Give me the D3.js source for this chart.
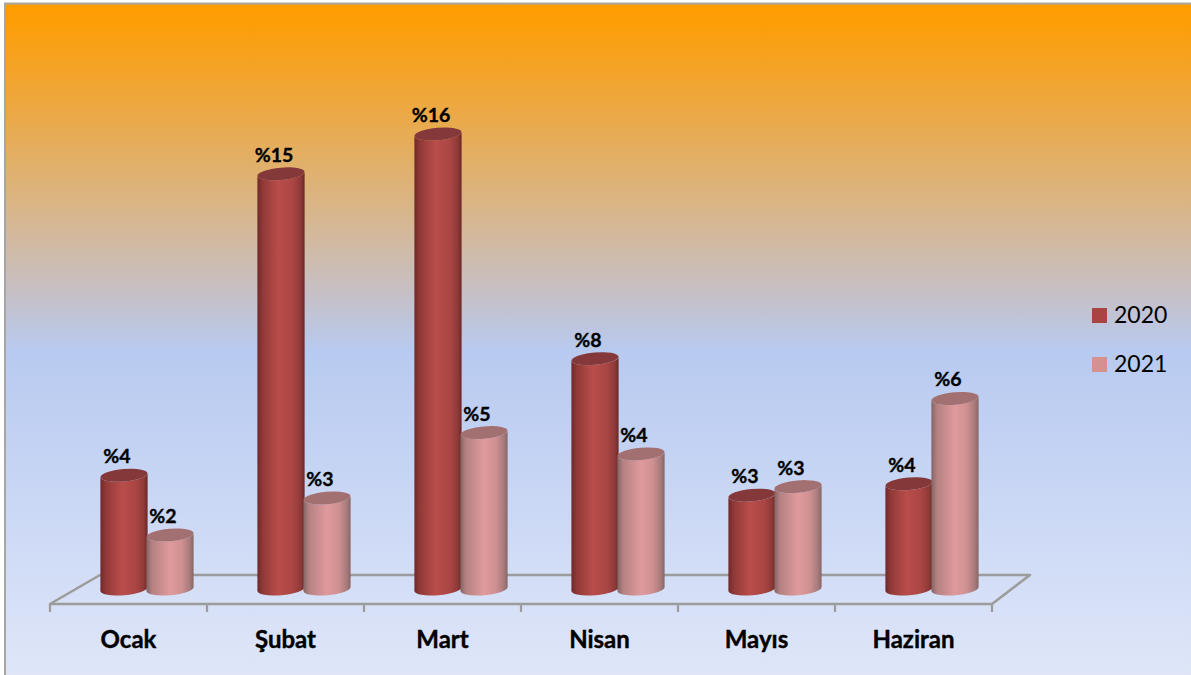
<!DOCTYPE html>
<html>
<head>
<meta charset="utf-8">
<script src="https://cdn.jsdelivr.net/npm/d3@7"></script>
<style>
  html, body { margin: 0; padding: 0; background: #fff; }
  svg { display: block; }
  text { font-family: Lato, "Open Sans", sans-serif; fill: #000; }
</style>
</head>
<body>
<div id="chart"></div>
<script>
const categories = ['Ocak', 'Şubat', 'Mart', 'Nisan', 'Mayıs', 'Haziran'];
const seriesNames = ['2020', '2021'];
const values2020 = [4.0, 14.6, 16.0, 8.1, 3.3, 3.7];
const values2021 = [1.9, 3.2, 5.5, 4.75, 3.6, 6.7];
const labels2020 = ['%4', '%15', '%16', '%8', '%3', '%4'];
const labels2021 = ['%2', '%3', '%5', '%4', '%3', '%6'];

const width = 1191;
const height = 675;
const baseY = 589;   // centre of the cylinder foot

const svg = d3.select('#chart').append('svg')
  .attr('width', width)
  .attr('height', height);
const defs = svg.append('defs');

// background, orange fading to pale blue
const bg = defs.append('linearGradient')
  .attr('id', 'bg').attr('x1', 0).attr('y1', 0).attr('x2', 0).attr('y2', 1);
[[0, '#ff9c00'], [0.03, '#fd9e08'], [0.15, '#eda840'], [0.3, '#d9b587'],
 [0.43, '#c6c0c6'], [0.515, '#b8caf0'], [0.75, '#cbd8f5'], [1, '#dfe6f8']]
  .forEach(s => bg.append('stop').attr('offset', s[0]).attr('stop-color', s[1]));

function cylinderGradient(id, stops) {
  const g = defs.append('linearGradient')
    .attr('id', id).attr('x1', 0).attr('y1', 0).attr('x2', 1).attr('y2', 0);
  stops.forEach(s => g.append('stop').attr('offset', s[0]).attr('stop-color', s[1]));
}
cylinderGradient('cyl2020', [[0, '#70292a'], [0.12, '#913a38'], [0.45, '#b94d4a'],
  [0.75, '#aa4644'], [0.92, '#8e3a38'], [1, '#6a2827']]);
cylinderGradient('cyl2021', [[0, '#836464'], [0.12, '#b58182'], [0.5, '#e09a9d'],
  [0.75, '#cf9092'], [0.92, '#a87a7b'], [1, '#856666']]);

svg.append('rect')
  .attr('x', 5).attr('y', 3.5)
  .attr('width', width).attr('height', height)
  .attr('fill', 'url(#bg)')
  .attr('stroke', '#a6a6a6')
  .attr('stroke-width', 2);

const x0 = d3.scaleBand().domain(categories).range([50, 992]);
const x1 = d3.scaleBand().domain(seriesNames).range([51, 143]);
const y = d3.scaleLinear().domain([0, 16]).range([baseY, 134]);

// floor
const floorColor = '#9c9c9c';
svg.append('path')
  .attr('d', 'M50,604 L100,575 L1030,575 L992,604 Z')
  .attr('fill', 'none')
  .attr('stroke', floorColor)
  .attr('stroke-width', 2.6)
  .attr('stroke-linejoin', 'round');

svg.append('g')
  .selectAll('line')
  .data(d3.range(categories.length + 1))
  .enter().append('line')
  .attr('x1', i => 50 + i * x0.step())
  .attr('x2', i => 50 + i * x0.step())
  .attr('y1', 604)
  .attr('y2', 612)
  .attr('stroke', floorColor)
  .attr('stroke-width', 2.2);

// category labels
const xAxis = svg.append('g')
  .attr('transform', 'translate(0,631)')
  .call(d3.axisBottom(x0).tickSize(0).tickPadding(0));
xAxis.select('.domain').remove();
xAxis.selectAll('text')
  .style('font-family', 'Lato, sans-serif')
  .style('font-size', '24px')
  .style('font-weight', 'bold')
  .style('stroke', '#000')
  .style('stroke-width', '0.4px')
  .attr('fill', '#000');

// cylinders
const rot = -5;
const rx = x1.bandwidth() / 2 + 0.6;
const ry = 6.2;
const dy = rx * Math.sin(rot * Math.PI / 180);

function bodyPath(cx, topY) {
  return `M${cx - rx},${topY - dy} L${cx - rx},${baseY - dy} ` +
    `A${rx},${ry} ${rot} 0 0 ${cx + rx},${baseY + dy} ` +
    `L${cx + rx},${topY + dy} ` +
    `A${rx},${ry} ${rot} 0 1 ${cx - rx},${topY - dy} Z`;
}

const series = [
  {name: '2020', values: values2020, labels: labels2020, fill: 'url(#cyl2020)', cap: '#84383a'},
  {name: '2021', values: values2021, labels: labels2021, fill: 'url(#cyl2021)', cap: '#a37071'}
];

series.forEach(s => {
  const g = svg.append('g').attr('class', 'series-' + s.name);
  const rows = categories.map((c, i) => ({
    cx: x0(c) + x1(s.name) + x1.bandwidth() / 2,
    topY: y(s.values[i]),
    label: s.labels[i]
  }));

  g.selectAll('path.body').data(rows).enter().append('path')
    .attr('class', 'body')
    .attr('d', d => bodyPath(d.cx, d.topY))
    .attr('fill', s.fill);

  g.selectAll('ellipse.cap').data(rows).enter().append('ellipse')
    .attr('class', 'cap')
    .attr('rx', rx)
    .attr('ry', ry)
    .attr('transform', d => `translate(${d.cx},${d.topY}) rotate(${rot})`)
    .attr('fill', s.cap);

  g.selectAll('text').data(rows).enter().append('text')
    .attr('x', d => d.cx - 7)
    .attr('y', d => d.topY - 12)
    .attr('text-anchor', 'middle')
    .style('font-size', '19.5px')
    .style('font-weight', 'bold')
    .style('stroke', '#000')
    .style('stroke-width', '0.35px')
    .text(d => d.label);
});

// legend
const legendColors = d3.scaleOrdinal().domain(seriesNames).range(['#a94442', '#d59090']);
const legend = svg.append('g')
  .selectAll('g')
  .data(seriesNames)
  .enter().append('g')
  .attr('transform', (d, i) => `translate(1092,${308 + i * 49})`);
legend.append('rect')
  .attr('width', 15).attr('height', 15)
  .attr('fill', d => legendColors(d));
legend.append('text')
  .attr('x', 22).attr('y', 15)
  .style('font-size', '23px')
  .text(d => d);
</script>
</body>
</html>
